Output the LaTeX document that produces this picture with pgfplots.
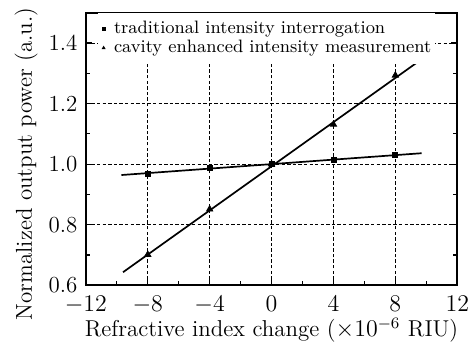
\documentclass[border=0pt]{standalone}
\usepackage{pgfplots}
\pgfplotsset{compat=1.18}
\begin{document}
\begin{tikzpicture}
\begin{axis}[
  name=main,
  scale only axis,
  width=186pt, height=136.5pt,
  xmin=-12, xmax=12, ymin=0.6, ymax=1.5,
  xtick={-12,-8,-4,0,4,8,12},
  ytick={0.6,0.8,1.0,1.2,1.4},
  yticklabels={0.6,0.8,1.0,1.2,1.4},
  minor xtick={-10,-6,-2,2,6,10},
  minor ytick={0.7,0.9,1.1,1.3},
  tick align=inside,
  major tick length=3pt, minor tick length=2pt,
  tick style={black, line width=0.6pt},
  axis line style={line width=0.8pt},
  extra x ticks={-8,-4,0,4,8},
  extra x tick labels={},
  extra x tick style={grid=major, major grid style={black, dash pattern=on 1.7pt off 1.1pt, line width=0.45pt}, tick style={draw=none}},
  extra y ticks={0.8,1.0,1.2,1.4},
  extra y tick labels={},
  extra y tick style={grid=major, major grid style={black, dash pattern=on 1.7pt off 1.1pt, line width=0.45pt}, tick style={draw=none}},
  ticklabel style={font=\fontsize{11.5}{13}\selectfont},
  yticklabel style={anchor=east, inner xsep=0pt, xshift=-4pt},
  xticklabel style={anchor=base, inner sep=0pt, yshift=-13.2pt},
  xlabel={Refractive index change ($\times10^{-6}$ RIU)},
  ylabel={Normalized output power (a.u.)},
  label style={font=\fontsize{11.5}{13}\selectfont, inner sep=0pt},
  xlabel style={at={([yshift=-25.8pt]axis description cs:0.5,0)}, anchor=base},
  ylabel style={at={([xshift=-27pt, yshift=-7.5pt]axis description cs:0,0.5)}, anchor=base},
  legend style={at={(0,1)}, anchor=north west, xshift=6pt, draw=none, fill=white,
    font=\fontsize{9}{10.5}\selectfont, inner xsep=1pt, inner ysep=3pt, row sep=0.25pt,
    nodes={inner xsep=1pt, inner ysep=0.5pt, text height=6.5pt, text depth=2pt},
    legend cell align=left},
  legend image code/.code={\path (-1.5pt,0pt) (4pt,0pt); \draw[#1, mark size=0.8pt] plot coordinates {(0pt,0pt)};},
]
\addplot[only marks, mark=square*, mark size=1.25pt, black] coordinates {
  (-8,0.967) (-4,0.986) (0,1.0) (4,1.013) (8,1.029)};
\addlegendentry{traditional intensity interrogation}
\addplot[only marks, mark=triangle*, mark size=1.8pt, black] coordinates {
  (-8,0.701) (-4,0.851) (0,1.0) (4,1.131) (8,1.293)};
\addlegendentry{cavity enhanced intensity measurement}
\addplot[black, line width=0.85pt, forget plot] coordinates {(-9.7,0.964) (9.7,1.036)};
\addplot[black, line width=0.85pt, forget plot] coordinates {(-9.6,0.643) (9.66,1.345)};
\end{axis}
\path ([shift={(-43pt,-28.65pt)}]main.south west) rectangle ([shift={(191.5pt,142.85pt)}]main.south west);
\end{tikzpicture}
\end{document}
